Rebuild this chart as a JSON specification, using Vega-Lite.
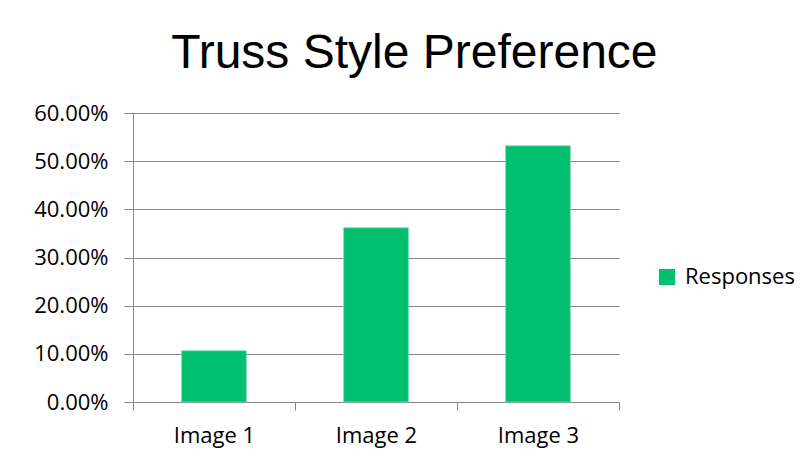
{
  "$schema": "https://vega.github.io/schema/vega-lite/v6.json",
  "width": 486,
  "height": 289,
  "padding": {"left": 33, "top": 30, "right": 10, "bottom": 10},
  "background": "white",
  "title": {
    "text": "Truss Style Preference",
    "font": "Liberation Sans",
    "fontSize": 48,
    "fontWeight": "normal",
    "color": "black",
    "anchor": "middle",
    "frame": "bounds",
    "offset": 24
  },
  "data": {
    "values": [
      {"image": "Image 1", "share": 0.1064},
      {"image": "Image 2", "share": 0.3617},
      {"image": "Image 3", "share": 0.5319}
    ]
  },
  "mark": {"type": "bar", "width": {"band": 0.4}, "stroke": "#7fdcb2", "strokeWidth": 0.8},
  "encoding": {
    "x": {
      "field": "image",
      "type": "nominal",
      "sort": null,
      "title": null,
      "scale": {"paddingInner": 0, "paddingOuter": 0},
      "axis": {
        "labelAngle": 0,
        "labelFont": "Open Sans",
        "labelFontSize": 22,
        "labelColor": "black",
        "labelPadding": 15,
        "tickBand": "extent",
        "tickSize": 8,
        "tickColor": "#868686",
        "domainColor": "#868686",
        "grid": false
      }
    },
    "y": {
      "field": "share",
      "type": "quantitative",
      "title": null,
      "scale": {"domain": [0, 0.6], "nice": false},
      "axis": {
        "values": [0, 0.1, 0.2, 0.3, 0.4, 0.5, 0.6],
        "format": ".2%",
        "labelFont": "Open Sans",
        "labelFontSize": 22,
        "labelColor": "black",
        "labelPadding": 16,
        "tickSize": 9,
        "tickColor": "#868686",
        "domainColor": "#868686",
        "gridColor": "#868686",
        "gridWidth": 1
      }
    },
    "color": {
      "datum": "Responses",
      "scale": {"range": ["#00BF6F"]},
      "legend": {
        "title": null,
        "orient": "none",
        "legendX": 523,
        "legendY": 153,
        "symbolType": "square",
        "symbolSize": 256,
        "symbolStrokeWidth": 0,
        "labelFont": "Open Sans",
        "labelFontSize": 22,
        "labelColor": "black",
        "labelOffset": 7
      }
    }
  },
  "config": {
    "view": {"stroke": null}
  }
}
